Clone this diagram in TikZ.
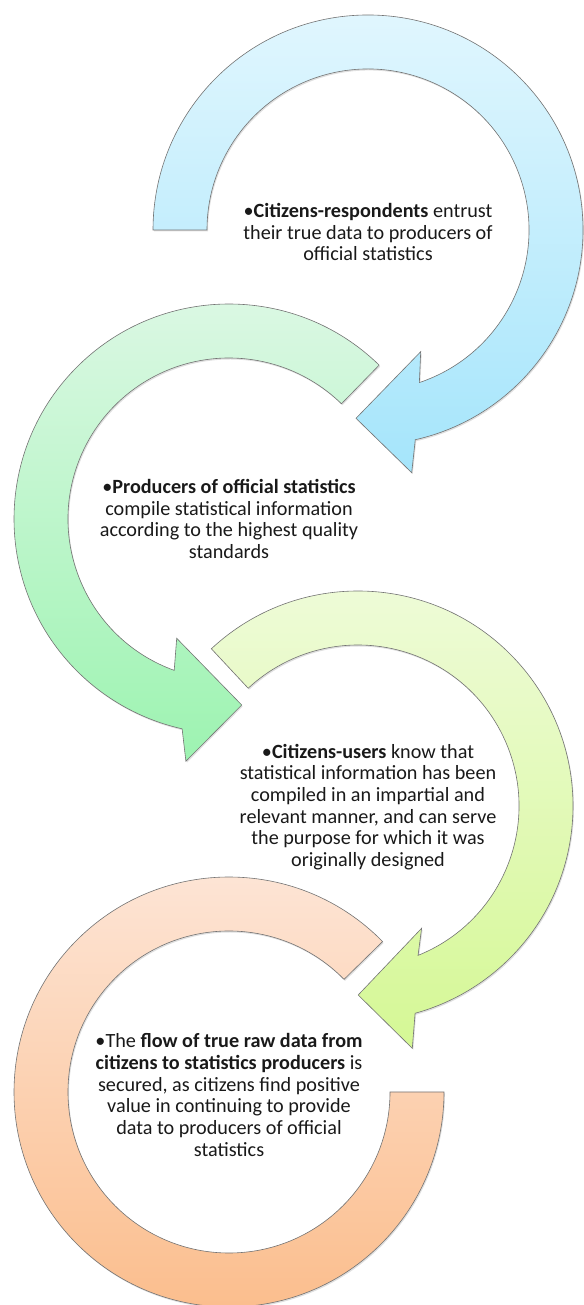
\documentclass[tikz,border=0pt]{standalone}
\usepackage{fontspec}
\setmainfont{Carlito}
\usepackage{xcolor}
\usetikzlibrary{shadows,calc}

\definecolor{bluetop}{HTML}{E0F6FE}
\definecolor{bluebot}{HTML}{A5E5FB}
\definecolor{greentop}{HTML}{DDF8E5}
\definecolor{greenbot}{HTML}{9DF3B1}
\definecolor{limetop}{HTML}{EFFBDA}
\definecolor{limebot}{HTML}{D5F895}
\definecolor{orangetop}{HTML}{FDE6D8}
\definecolor{orangebot}{HTML}{FBBC8A}

\begin{document}
\begin{tikzpicture}[x=1pt,y=1pt,
  ring/.style={draw=black!55, line width=0.6pt,
    drop shadow={shadow xshift=1pt, shadow yshift=-1.5pt, opacity=0.25}},
  txt/.style={align=center, inner sep=0pt, text=black!90,
    font=\fontsize{20.2}{21.7}\selectfont}]
\useasboundingbox (0,0) rectangle (583,1305);

\coordinate (cb) at (368,1075);
\coordinate (cg) at (229,786);
\coordinate (cy) at (358,499);
\coordinate (co) at (229,213);

% blue arrow
\path[ring, top color=bluetop, bottom color=bluebot]
  ($(cb)+(180:215)$) arc[start angle=180, end angle=-77.3, radius=215]
  -- (411.7,832.3) -- (356,886.7) -- (420.7,953.3)
  -- ($(cb)+(-71.4:161)$) arc[start angle=-71.4, end angle=180, radius=161] -- cycle;

% green arrow
\path[ring, top color=greentop, bottom color=greenbot]
  ($(cg)+(45.7:215)$) arc[start angle=45.7, end angle=257.4, radius=215]
  -- (185.9,543.8) -- (241.7,600) -- (176.7,666.7)
  -- ($(cg)+(250.1:161)$) arc[start angle=250.1, end angle=45.7, radius=161] -- cycle;

% lime arrow
\path[ring, top color=limetop, bottom color=limebot]
  ($(cy)+(133:215)$) arc[start angle=133, end angle=-74.6, radius=215]
  -- (412.3,256.7) -- (358.2,310) -- (421.6,376.7)
  -- ($(cy)+(-68.1:161)$) arc[start angle=-68.1, end angle=133, radius=161] -- cycle;

% orange ring
\path[ring, top color=orangetop, bottom color=orangebot]
  ($(co)+(44.4:215)$) arc[start angle=44.4, end angle=360, radius=215]
  -- ($(co)+(0:161)$) arc[start angle=360, end angle=44.4, radius=161] -- cycle;

\node[txt] (resp) at (368,1073) {•\textbf{Citizens-respondents} entrust\\their true data to producers of\\official statistics};
\node[txt] (prod) at (229,786) {•\textbf{Producers of official statistics}\\compile statistical information\\according to the highest quality\\standards};
\node[txt] (users) at (368,498) {•\textbf{Citizens-users} know that\\statistical information has been\\compiled in an impartial and\\relevant manner, and can serve\\the purpose for which it was\\originally designed};
\node[txt] (flow) at (229,210) {•The \textbf{flow of true raw data from}\\\textbf{citizens to statistics producers} is\\secured, as citizens find positive\\value in continuing to provide\\data to producers of official\\statistics};
\end{tikzpicture}
\end{document}
